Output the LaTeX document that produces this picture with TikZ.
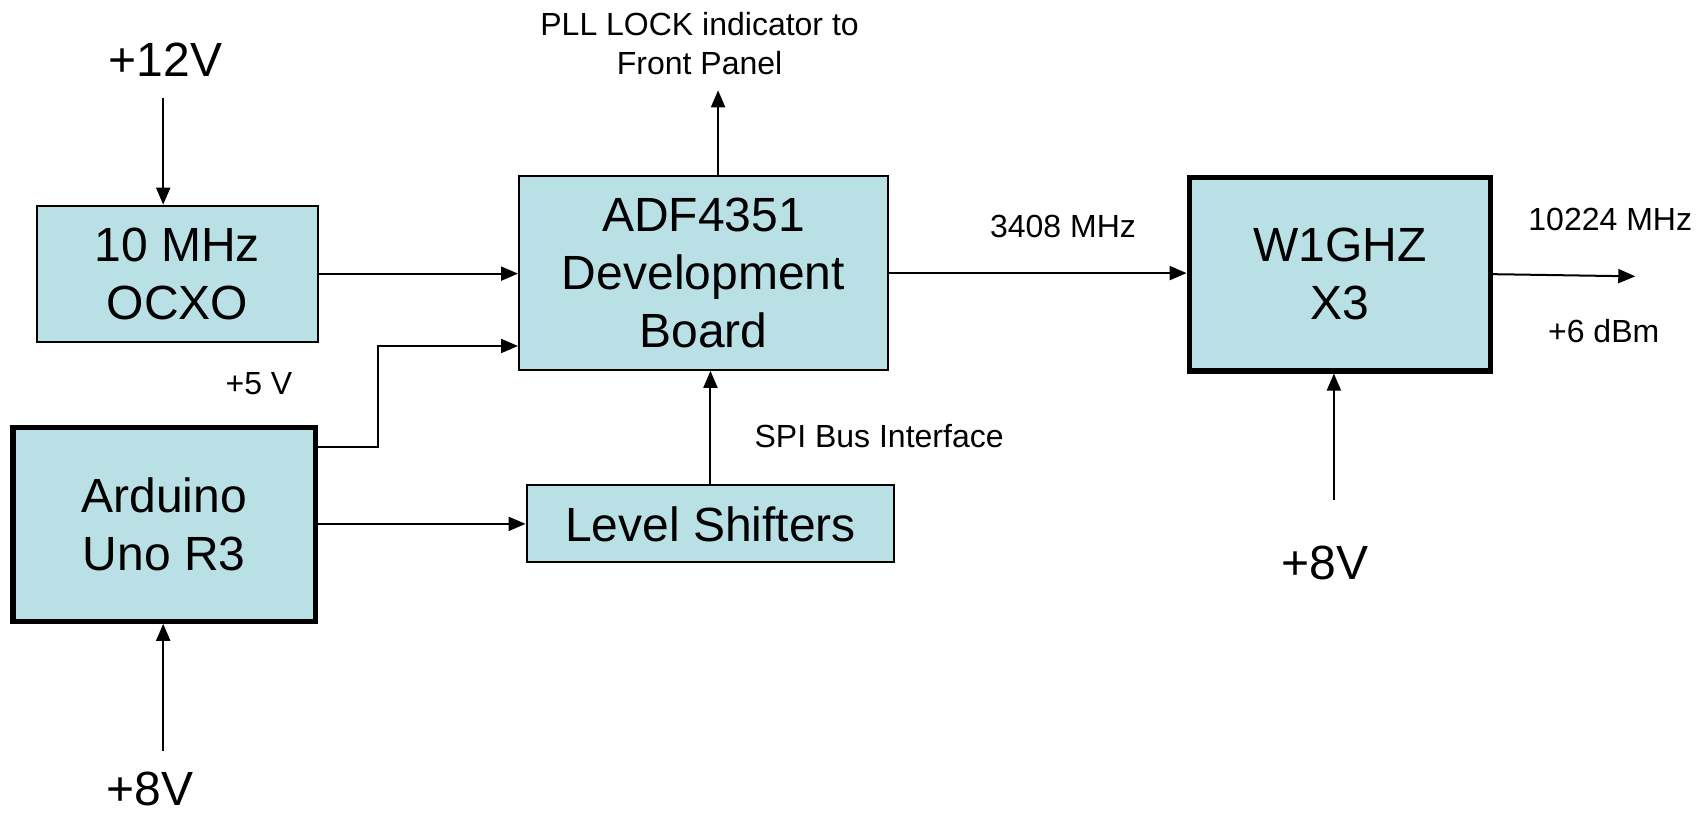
\documentclass[tikz,border=0pt]{standalone}
\usepackage{fontspec}
\setmainfont{Liberation Sans}
\usetikzlibrary{arrows.meta}
\definecolor{boxfill}{RGB}{185,224,228}
\tikzset{
  box/.style={draw=black, fill=boxfill, line width=1pt, inner sep=0pt, align=center,
    font=\fontsize{24}{29}\selectfont},
  thickbox/.style={box, line width=2.6pt},
  arr/.style={draw=black, line width=1pt, -{Triangle[length=8.5pt,width=7pt]}},
  big/.style={font=\fontsize{24}{29}\selectfont, inner sep=0pt},
  small/.style={font=\fontsize{16}{19.5}\selectfont, inner sep=0pt, align=center}
}
\begin{document}
\begin{tikzpicture}[x=0.544pt, y=-0.544pt]
\useasboundingbox (0,0) rectangle (1568,750);
% boxes
\node[box, minimum width=140.4pt, minimum height=68pt] (ocxo) at (163,251.5) {10 MHz\\OCXO};
\node[box, minimum width=184.4pt, minimum height=96.8pt] (adf) at (646.5,251) {ADF4351\\Development\\Board};
\node[thickbox, minimum width=151.2pt, minimum height=96.8pt] (ard) at (151,482) {Arduino\\Uno R3};
\node[box, minimum width=183.9pt, minimum height=38.6pt] (lvl) at (653,481.5) {Level Shifters};
\node[thickbox, minimum width=150.7pt, minimum height=96.8pt] (w1) at (1231.5,252) {W1GHZ\\X3};
% labels
\node[big] (v12) at (152,55) {+12V};
\node[small] (v5) at (238,353) {+5 V};
\node[small] (pll) at (643,40) {PLL LOCK indicator to\\Front Panel};
\node[small] (spi) at (808,401) {SPI Bus Interface};
\node[small] (f1) at (977,208) {3408 MHz};
\node[small] (f2) at (1480,202) {10224 MHz};
\node[small] (pw) at (1474,304) {+6 dBm};
\node[big] (v8r) at (1218,517) {+8V};
\node[big] (v8l) at (138,725) {+8V};
% free ends
\coordinate (c12) at (150,90);
\coordinate (y5) at (0,318);
\coordinate (pllend) at (660,83);
\coordinate (out) at (1503,254);
\coordinate (c8r) at (1226,460);
\coordinate (c8l) at (150,690);
% connectors
\draw[arr] (c12) -- (c12 |- ocxo.north);
\draw[arr] (ocxo.east) -- (ocxo.east -| adf.west);
\draw[arr] ([yshift=-10.9pt]ard.north east) -- ++(55,0) |- (adf.west |- y5);
\draw[arr] (ard.east |- lvl.west) -- (lvl.west);
\draw[arr] (lvl.north) -- (lvl.north |- adf.south);
\draw[arr] (pllend |- adf.north) -- (pllend);
\draw[arr] (adf.east) -- (adf.east -| w1.west);
\draw[arr] (w1.east) -- (out);
\draw[arr] (c8r) -- (c8r |- w1.south);
\draw[arr] (c8l) -- (c8l |- ard.south);
\end{tikzpicture}
\end{document}
